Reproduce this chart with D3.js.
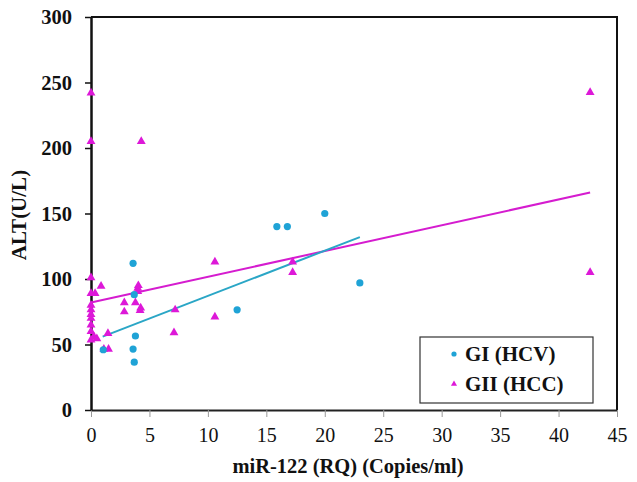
<!DOCTYPE html>
<html>
<head>
<meta charset="utf-8">
<script src="https://cdn.jsdelivr.net/npm/d3@7"></script>
<style>
  body { margin: 0; background: #fff; }
  svg { display: block; font-family: "Liberation Serif", "Times New Roman", serif; }
</style>
</head>
<body>
<div id="wrapper"></div>
<script>
// GI (HCV) points: miR-122 vs ALT
const hcvX = [3.6, 3.7, 3.8, 3.6, 3.7, 1.05, 12.5, 15.9, 16.8, 20.0, 23.0]
const hcvY = [112, 88, 56.5, 46.5, 36.5, 46, 76.5, 140, 140, 150, 97]

// GII (HCC) points
const hccX = [0, 0, 4.3, 42.7, 42.7, 10.6, 10.6, 17.25, 17.25, 7.2, 7.1,
  0, 0.86, 0, 0.35, 0, 0, 0, 0, 0, 0, 0.25, 0.5, 0, 1.45, 1.1, 1.5,
  2.85, 3.8, 2.85, 4.2, 4.25, 4.0, 4.0, 4.05]
const hccY = [242, 205, 205, 242.5, 105, 113, 71, 113, 105, 76.5, 59,
  101, 94.5, 89, 89, 80, 76.5, 73, 70, 65, 60, 56, 54.5, 53.5, 58.5, 46.5, 46.5,
  82, 82, 75, 76, 78, 93, 90.5, 95]

// linear trendlines (endpoints)
const hcvTrendX = [1.0, 23.0]
const hcvTrendY = [56, 132]
const hccTrendX = [0, 42.7]
const hccTrendY = [82, 166]

const xTicks = [0, 5, 10, 15, 20, 25, 30, 35, 40, 45]
const yTicks = [0, 50, 100, 150, 200, 250, 300]

const seriesNames = ["GI (HCV)", "GII (HCC)"]
const blue = "#1fa3d6"
const magenta = "#dd18d8"

const dimensions = {
  width: 637,
  height: 482,
  margins: { top: 17, right: 20, bottom: 72, left: 91 },
}
dimensions.boundedWidth = dimensions.width - dimensions.margins.left - dimensions.margins.right
dimensions.boundedHeight = dimensions.height - dimensions.margins.top - dimensions.margins.bottom

const svg = d3.select("#wrapper")
  .append("svg")
  .attr("width", dimensions.width)
  .attr("height", dimensions.height)

const bounds = svg.append("g")
  .attr("transform", `translate(${dimensions.margins.left},${dimensions.margins.top})`)

const xScale = d3.scaleLinear().domain([0, 45]).range([0, dimensions.boundedWidth])
const yScale = d3.scaleLinear().domain([0, 300]).range([dimensions.boundedHeight, 0])

// frame (top and right)
bounds.append("path")
  .attr("d", `M0,0H${dimensions.boundedWidth}V${dimensions.boundedHeight}`)
  .attr("fill", "none")
  .attr("stroke", "#111")
  .attr("stroke-width", 2)

// axes
const xAxis = bounds.append("g")
  .attr("transform", `translate(0,${dimensions.boundedHeight})`)
  .call(d3.axisBottom(xScale).tickValues(xTicks).tickSize(7).tickPadding(11).tickSizeOuter(0))
xAxis.select(".domain").attr("stroke", "#222").attr("stroke-width", 2)
xAxis.selectAll(".tick line").attr("stroke", "#999")
xAxis.selectAll("text")
  .attr("font-size", 20)
  .attr("font-family", "Liberation Serif, serif")
  .attr("fill", "#111")

const yAxis = bounds.append("g")
  .call(d3.axisLeft(yScale).tickValues(yTicks).tickSize(6).tickPadding(13).tickSizeOuter(0))
yAxis.select(".domain").attr("stroke", "#111").attr("stroke-width", 2.5)
yAxis.selectAll(".tick line").attr("stroke", "#111").attr("stroke-width", 1.5)
yAxis.selectAll("text")
  .attr("font-size", 20.5)
  .attr("font-weight", "bold")
  .attr("font-family", "Liberation Serif, serif")
  .attr("fill", "#111")

// axis titles
svg.append("text")
  .attr("x", 348)
  .attr("y", 473)
  .attr("text-anchor", "middle")
  .attr("font-size", 20.5)
  .attr("font-weight", "bold")
  .attr("fill", "#111")
  .text("miR-122 (RQ) (Copies/ml)")

svg.append("text")
  .attr("transform", `translate(26,215) rotate(-90)`)
  .attr("text-anchor", "middle")
  .attr("font-size", 21)
  .attr("font-weight", "bold")
  .attr("fill", "#111")
  .text("ALT(U/L)")

// trendlines
const line = d3.line().x((d) => xScale(d[0])).y((d) => yScale(d[1]))
bounds.append("path")
  .attr("d", line(d3.zip(hccTrendX, hccTrendY)))
  .attr("fill", "none")
  .attr("stroke", "#d51ccf")
  .attr("stroke-width", 2)
bounds.append("path")
  .attr("d", line(d3.zip(hcvTrendX, hcvTrendY)))
  .attr("fill", "none")
  .attr("stroke", "#2aa6c6")
  .attr("stroke-width", 2)

// markers
const triangle = d3.symbol().type(d3.symbolTriangle).size(34)

bounds.append("g")
  .selectAll("path")
  .data(d3.zip(hccX, hccY))
  .join("path")
  .attr("d", triangle)
  .attr("transform", (d) => `translate(${xScale(d[0])},${yScale(d[1])})`)
  .attr("fill", magenta)

bounds.append("g")
  .selectAll("circle")
  .data(d3.zip(hcvX, hcvY))
  .join("circle")
  .attr("cx", (d) => xScale(d[0]))
  .attr("cy", (d) => yScale(d[1]))
  .attr("r", 3.6)
  .attr("fill", blue)

// legend
const legend = svg.append("g").attr("transform", "translate(420,337)")
legend.append("rect")
  .attr("width", 173)
  .attr("height", 66)
  .attr("fill", "#fff")
  .attr("stroke", "#333")
  .attr("stroke-width", 1.2)

legend.append("circle")
  .attr("cx", 34).attr("cy", 17).attr("r", 2.6)
  .attr("fill", blue)
legend.append("path")
  .attr("d", d3.symbol().type(d3.symbolTriangle).size(16))
  .attr("transform", "translate(34,47)")
  .attr("fill", magenta)

legend.selectAll("text.lbl")
  .data(seriesNames)
  .join("text")
  .attr("class", "lbl")
  .attr("x", 45)
  .attr("y", (d, i) => 24 + i * 30)
  .attr("font-size", 21)
  .attr("font-weight", "bold")
  .attr("fill", "#111")
  .text((d) => d)
</script>
</body>
</html>
